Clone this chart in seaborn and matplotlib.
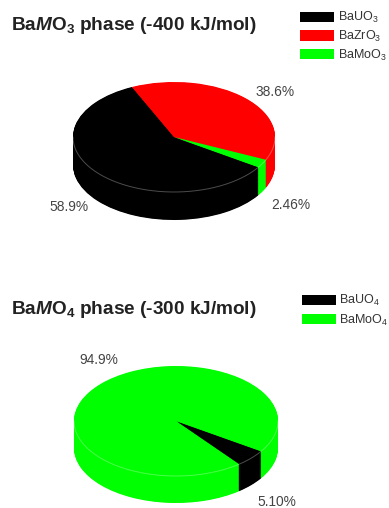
import numpy as np
import matplotlib
matplotlib.use('Agg')
import matplotlib.pyplot as plt
from matplotlib.patches import Patch
import seaborn as sns

W, H = 389, 508

labels_mo3 = ['BaUO$_3$', 'BaZrO$_3$', 'BaMoO$_3$']
values_mo3 = [58.9, 38.6, 2.46]
colors_mo3 = ['#000000', '#ff0000', '#00ff00']
pct_mo3 = ['58.9%', '38.6%', '2.46%']

labels_mo4 = ['BaUO$_4$', 'BaMoO$_4$']
values_mo4 = [5.10, 94.9]
colors_mo4 = ['#000000', '#00ff00']
pct_mo4 = ['5.10%', '94.9%']

sns.set_theme(style='white')
plt.rcParams['font.family'] = ['Liberation Sans', 'DejaVu Sans']
plt.rcParams['mathtext.fontset'] = 'custom'
plt.rcParams['mathtext.rm'] = 'Liberation Sans'
plt.rcParams['mathtext.it'] = 'Liberation Sans:italic'
plt.rcParams['mathtext.bf'] = 'Liberation Sans:bold'
plt.rcParams['mathtext.bfit'] = 'Liberation Sans:italic:bold'

fig = plt.figure(figsize=(W / 100, H / 100), dpi=100)


def pie3d(values, colors, start, cx, cy, rx, ry, depth):
    # axes sized so that radius 1 is the ellipse, depth in units of ry
    d = depth / ry
    ax = fig.add_axes([(cx - rx) / W, 1 - (cy + ry + depth) / H,
                       2 * rx / W, (2 * ry + depth) / H])
    # stack of pies going up gives the side wall
    for off in np.linspace(d, 0, 50):
        ax.pie(values, colors=colors, startangle=start, counterclock=False,
               center=(0, -off), wedgeprops={'clip_on': False, 'linewidth': 0})
    t = np.linspace(np.pi, 2 * np.pi, 200)
    ax.plot(np.cos(t), np.sin(t), color='white', alpha=0.3, lw=0.7, clip_on=False)
    ax.set_aspect('auto')
    ax.set_xlim(-1, 1)
    ax.set_ylim(-1 - d, 1)
    ax.axis('off')
    return ax


def add_legend(labels, colors, x, y, spacing, pad):
    handles = [Patch(facecolor=c, edgecolor='none') for c in colors]
    fig.legend(handles, labels, loc='upper left', bbox_to_anchor=(x / W, 1 - y / H),
               frameon=False, fontsize=9.0, borderpad=0, borderaxespad=0,
               handlelength=2.7, handleheight=0.89, handletextpad=pad,
               labelspacing=spacing, labelcolor='#333333')


pie3d(values_mo3, colors_mo3, -33.3, 174, 137, 101, 55, 28)
pie3d(values_mo4, colors_mo4, -33.4, 176, 421, 102, 55, 27)

fig.text(11 / W, 1 - 30.5 / H, r'Ba$\mathbfit{M}$O$_\mathbf{3}$ phase (-400 kJ/mol)',
         fontsize=13.7, fontweight='bold', color='#222222', va='baseline')
fig.text(11 / W, 1 - 314 / H, r'Ba$\mathbfit{M}$O$_\mathbf{4}$ phase (-300 kJ/mol)',
         fontsize=13.7, fontweight='bold', color='#222222', va='baseline')

add_legend(labels_mo3, colors_mo3, 300, 10, 0.29, 0.38)
add_legend(labels_mo4, colors_mo4, 302, 293, 0.35, 0.25)

for txt, x, y in zip(pct_mo3, [69, 275, 291], [207, 92, 205]):
    fig.text(x / W, 1 - y / H, txt, fontsize=9.9, color='#444444', ha='center', va='center')
for txt, x, y in zip(pct_mo4, [277, 99], [502, 360]):
    fig.text(x / W, 1 - y / H, txt, fontsize=9.9, color='#444444', ha='center', va='center')

fig.savefig('out.png', dpi=100)
